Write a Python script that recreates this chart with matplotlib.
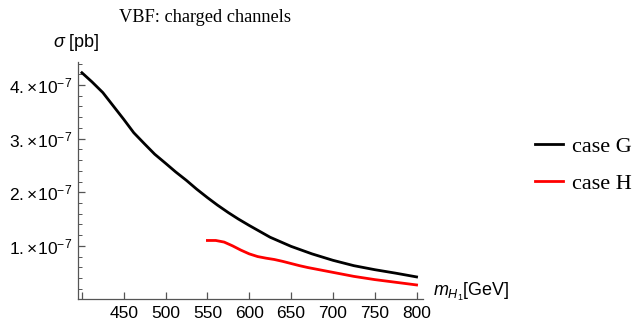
import matplotlib
matplotlib.use('Agg')
import matplotlib.pyplot as plt
from matplotlib.ticker import FixedLocator, FuncFormatter

plt.rcParams['font.family'] = 'Liberation Sans'
plt.rcParams['mathtext.fontset'] = 'custom'
plt.rcParams['mathtext.rm'] = 'Liberation Sans'
plt.rcParams['mathtext.it'] = 'Liberation Sans:italic'

# values (sigma in units of 1e-7 pb)
mass_g = [400, 412, 425, 437, 450, 462, 475, 487, 500, 512, 525, 537, 550, 562, 575,
          587, 600, 625, 650, 675, 700, 725, 750, 775, 800]
sigma_g = [4.23, 4.06, 3.86, 3.62, 3.36, 3.11, 2.90, 2.71, 2.54, 2.38, 2.22, 2.06, 1.90,
           1.76, 1.62, 1.50, 1.38, 1.16, 0.99, 0.85, 0.73, 0.63, 0.555, 0.49, 0.42]

mass_h = [550, 560, 570, 580, 590, 600, 610, 620, 630, 640, 650, 660, 670, 685, 700,
          725, 750, 775, 800]
sigma_h = [1.10, 1.10, 1.07, 1.00, 0.92, 0.85, 0.80, 0.77, 0.745, 0.71, 0.67, 0.63,
           0.595, 0.55, 0.505, 0.43, 0.37, 0.32, 0.27]

xticks = [400, 450, 500, 550, 600, 650, 700, 750, 800]
yticks = [1, 2, 3, 4]

fig = plt.figure(figsize=(6.34, 3.23), dpi=100)
ax = fig.add_axes([0.1226, 0.073, 0.545, 0.735])

ax.plot(mass_g, [v * 1e-7 for v in sigma_g], color='black', lw=2.0, label='case G')
ax.plot(mass_h, [v * 1e-7 for v in sigma_h], color='#ff0000', lw=2.0, label='case H')

ax.set_xlim(395, 808)
ax.set_ylim(0, 4.43e-7)

axis_col = '#555555'
for s in ['top', 'right']:
    ax.spines[s].set_visible(False)
for s in ['left', 'bottom']:
    ax.spines[s].set_color(axis_col)
    ax.spines[s].set_linewidth(0.9)

ax.xaxis.set_major_locator(FixedLocator(xticks))
ax.xaxis.set_major_formatter(FuncFormatter(lambda v, p: '' if v == 400 else '%d' % v))
ax.yaxis.set_major_locator(FixedLocator([v * 1e-7 for v in yticks]))
ax.yaxis.set_major_formatter(FuncFormatter(lambda v, p: r'$%d.\!\times\!10^{-7}$' % round(v * 1e7)))
ax.yaxis.set_minor_locator(FixedLocator([i * 0.2e-7 for i in range(1, 23) if i % 5 != 0]))
ax.tick_params(which='both', direction='in', color=axis_col, labelsize=12.5)
ax.tick_params(which='major', length=5, width=0.9)
ax.tick_params(which='minor', length=3, width=0.7)
ax.tick_params(axis='y', pad=4)
ax.tick_params(axis='x', pad=5)

fig.text(0.0836, 0.867, r'$\mathit{\sigma}$ [pb]', fontsize=13, va='center')
fig.text(0.683, 0.096, r'$m_{H_1}$[GeV]', fontsize=13, va='center')
fig.text(0.323, 0.945, 'VBF: charged channels', fontsize=13.2,
         family='Liberation Serif', ha='center', va='center')

fig.legend(loc='center left', bbox_to_anchor=(0.844, 0.489), frameon=False,
           prop={'family': 'Liberation Serif', 'size': 16}, handlelength=1.27,
           labelspacing=0.75, handletextpad=0.4, borderpad=0, borderaxespad=0)

fig.savefig('out.png', dpi=100)
